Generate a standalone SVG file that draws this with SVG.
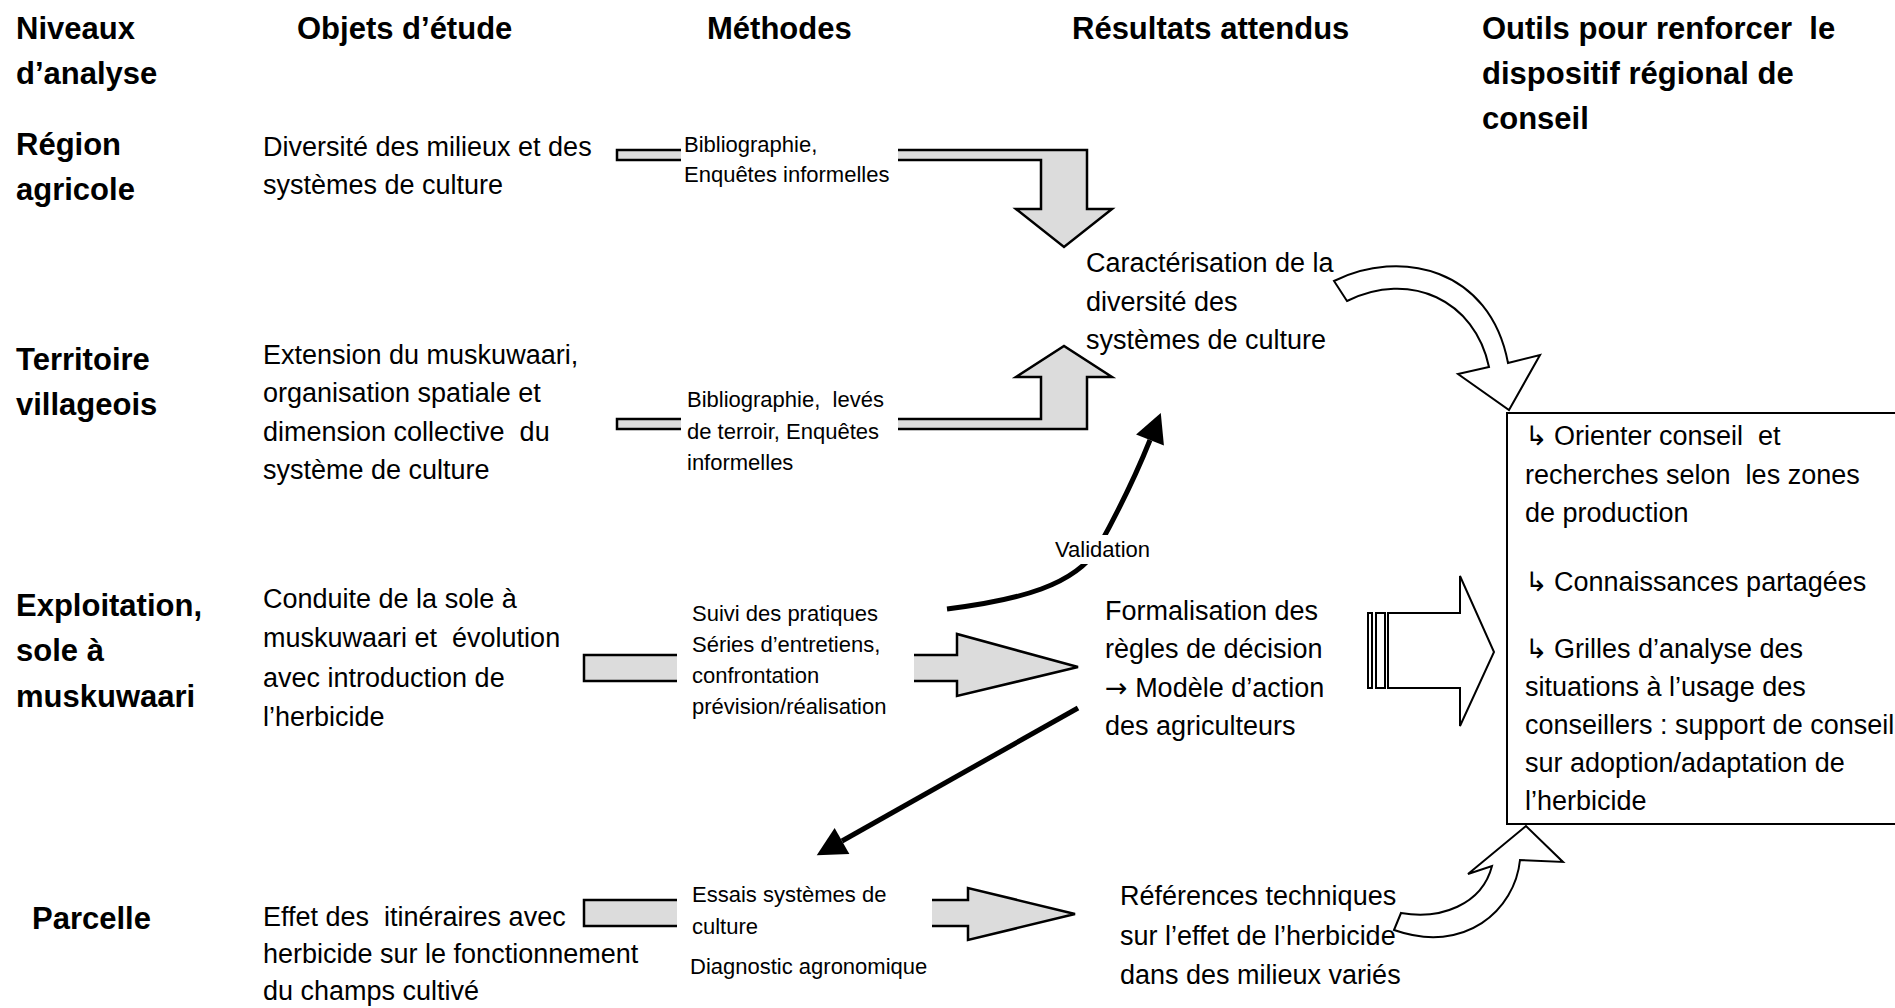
<svg xmlns="http://www.w3.org/2000/svg" width="1895" height="1008" viewBox="0 0 1895 1008">
<defs>
<style>
text { font-family: "Liberation Sans", Arial, sans-serif; white-space: pre; fill: #000; }
.h { font-size: 31px; font-weight: bold; }
.b { font-size: 27px; }
.m { font-size: 22px; }
.g { font-family: "DejaVu Sans", sans-serif; }
.block { fill: #dcdcdc; stroke: #000; stroke-width: 2.5; stroke-linejoin: miter; }
.hollow { fill: #fff; stroke: #000; stroke-width: 2; stroke-linejoin: miter; }
.mask { fill: #fff; stroke: none; }
.thick { fill: none; stroke: #000; stroke-width: 5; }
.box { fill: #fff; stroke: #000; stroke-width: 2; }
</style>
<marker id="ah" markerUnits="userSpaceOnUse" markerWidth="30" markerHeight="30" refX="0" refY="15" orient="auto" overflow="visible">
<path d="M0,0 L29,15 L0,30 z" fill="#000"/>
</marker>
</defs>
<rect width="1895" height="1008" fill="#fff"/>

<g id="headers">
<text class="h" x="16" y="39">Niveaux</text>
<text class="h" x="16" y="84">d’analyse</text>
<text class="h" x="297" y="39">Objets d’étude</text>
<text class="h" x="707" y="39">Méthodes</text>
<text class="h" x="1072" y="39">Résultats attendus</text>
<text class="h" x="1482" y="39">Outils pour renforcer  le</text>
<text class="h" x="1482" y="84">dispositif régional de</text>
<text class="h" x="1482" y="129">conseil</text>
</g>

<g id="connectors">
<!-- row 1 bent arrow down -->
<path class="block" d="M617,150 L1087,150 L1087,209 L1112,209 L1064,247 L1016,209 L1041,209 L1041,160 L617,160 Z"/>
<rect class="mask" x="681" y="140" width="217" height="30"/>
<!-- row 2 bent arrow up -->
<path class="block" d="M617,429 L1087,429 L1087,377 L1112,377 L1064,346 L1016,377 L1041,377 L1041,419 L617,419 Z"/>
<rect class="mask" x="681" y="410" width="217" height="30"/>
<!-- row 3 arrow -->
<path class="block" d="M584,655 L957,655 L957,634 L1078,667 L957,696 L957,681 L584,681 Z"/>
<rect class="mask" x="677" y="640" width="237" height="50"/>
<!-- row 4 arrow -->
<path class="block" d="M584,900 L968,900 L968,888 L1075,914 L968,940 L968,926 L584,926 Z"/>
<rect class="mask" x="677" y="890" width="255" height="45"/>

<!-- validation arrow -->
<path class="thick" d="M947,609 C1020,600 1075,585 1098,548 Q1130,490 1150,440" marker-end="url(#ah)"/>
<rect class="mask" x="1052" y="535" width="100" height="29"/>
<text class="m" x="1055" y="557">Validation</text>

<!-- feedback arrow to parcelle -->
<path class="thick" d="M1078,708 L842,841" marker-end="url(#ah)"/>

<!-- curved hollow arrow top -->
<path class="hollow" d="M1334,281 C1400,248 1490,268 1508,363 L1540,355 L1509,410 L1458,374 L1489,367 C1475,300 1410,270 1347,301 Z"/>
<!-- curved hollow arrow bottom -->
<path class="hollow" d="M1401,913 C1440,920 1482,905 1492,866 L1468,874 L1526,826 L1563,862 L1520,860 C1515,910 1465,955 1394,930 Z"/>
<!-- striped hollow arrow -->
<rect class="hollow" x="1368" y="613" width="4" height="75"/>
<rect class="hollow" x="1376" y="613" width="9" height="75"/>
<path class="hollow" d="M1388,613 L1460,613 L1460,576 L1494,652 L1460,726 L1460,688 L1388,688 Z"/>
</g>

<g id="row-region">
<text class="h" x="16" y="155">Région</text>
<text class="h" x="16" y="200">agricole</text>
</g>
<g id="row-territoire">
<text class="h" x="16" y="370">Territoire</text>
<text class="h" x="16" y="415">villageois</text>
</g>
<g id="row-exploitation">
<text class="h" x="16" y="616">Exploitation,</text>
<text class="h" x="16" y="661">sole à</text>
<text class="h" x="16" y="707">muskuwaari</text>
</g>
<g id="row-parcelle">
<text class="h" x="32" y="929">Parcelle</text>
</g>

<g id="objet-1">
<text class="b" x="263" y="156">Diversité des milieux et des</text>
<text class="b" x="263" y="194">systèmes de culture</text>
</g>
<g id="objet-2">
<text class="b" x="263" y="364">Extension du muskuwaari,</text>
<text class="b" x="263" y="402">organisation spatiale et</text>
<text class="b" x="263" y="441">dimension collective  du</text>
<text class="b" x="263" y="479">système de culture</text>
</g>
<g id="objet-3">
<text class="b" x="263" y="608">Conduite de la sole à</text>
<text class="b" x="263" y="647">muskuwaari et  évolution</text>
<text class="b" x="263" y="687">avec introduction de</text>
<text class="b" x="263" y="726">l’herbicide</text>
</g>
<g id="objet-4">
<text class="b" x="263" y="926">Effet des  itinéraires avec</text>
<text class="b" x="263" y="963">herbicide sur le fonctionnement</text>
<text class="b" x="263" y="1000">du champs cultivé</text>
</g>

<g id="methode-1">
<text class="m" x="684" y="152">Bibliographie,</text>
<text class="m" x="684" y="182">Enquêtes informelles</text>
</g>
<g id="methode-2">
<text class="m" x="687" y="407">Bibliographie,  levés</text>
<text class="m" x="687" y="439">de terroir, Enquêtes</text>
<text class="m" x="687" y="470">informelles</text>
</g>
<g id="methode-3">
<text class="m" x="692" y="621">Suivi des pratiques</text>
<text class="m" x="692" y="652">Séries d’entretiens,</text>
<text class="m" x="692" y="683">confrontation</text>
<text class="m" x="692" y="714">prévision/réalisation</text>
</g>
<g id="methode-4">
<text class="m" x="692" y="902">Essais systèmes de</text>
<text class="m" x="692" y="934">culture</text>
<text class="m" x="690" y="974">Diagnostic agronomique</text>
</g>

<g id="resultat-1">
<text class="b" x="1086" y="272">Caractérisation de la</text>
<text class="b" x="1086" y="311">diversité des</text>
<text class="b" x="1086" y="349">systèmes de culture</text>
</g>
<g id="resultat-2">
<text class="b" x="1105" y="620">Formalisation des</text>
<text class="b" x="1105" y="658">règles de décision</text>
<text class="b" x="1105" y="697"><tspan class="g">→</tspan> Modèle d’action</text>
<text class="b" x="1105" y="735">des agriculteurs</text>
</g>
<g id="resultat-3">
<text class="b" x="1120" y="905">Références techniques</text>
<text class="b" x="1120" y="945">sur l’effet de l’herbicide</text>
<text class="b" x="1120" y="984">dans des milieux variés</text>
</g>

<g id="outils">
<rect class="box" x="1507" y="413" width="400" height="411"/>
<text class="b" y="445"><tspan class="g" x="1525">↳</tspan><tspan x="1554">Orienter conseil  et</tspan></text>
<text class="b" x="1525" y="484">recherches selon  les zones</text>
<text class="b" x="1525" y="522">de production</text>
<text class="b" y="591"><tspan class="g" x="1525">↳</tspan><tspan x="1554">Connaissances partagées</tspan></text>
<text class="b" y="658"><tspan class="g" x="1525">↳</tspan><tspan x="1554">Grilles d’analyse des</tspan></text>
<text class="b" x="1525" y="696">situations à l’usage des</text>
<text class="b" x="1525" y="734">conseillers : support de conseil</text>
<text class="b" x="1525" y="772">sur adoption/adaptation de</text>
<text class="b" x="1525" y="810">l’herbicide</text>
</g>
</svg>
